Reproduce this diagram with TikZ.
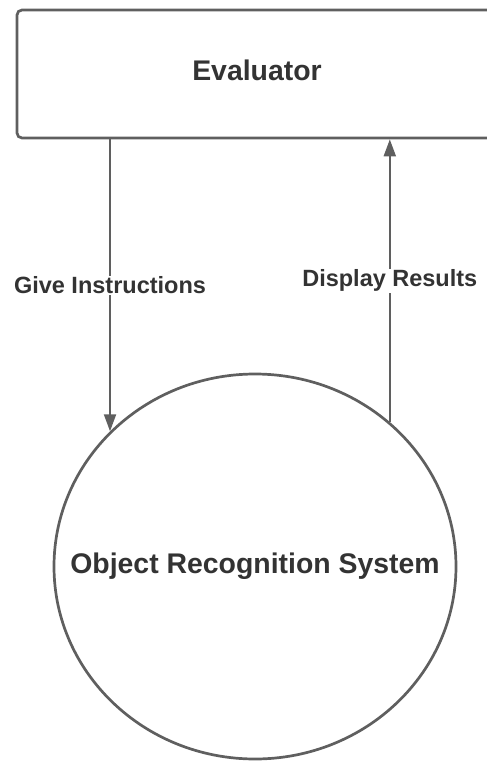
\documentclass[tikz,border=0pt]{standalone}
\usepackage{fontspec}
\setmainfont{Liberation Sans}
\usepackage{xcolor}
\usetikzlibrary{arrows.meta, shapes.geometric}
\definecolor{linegray}{HTML}{5F5F5F}
\definecolor{textgray}{HTML}{333333}
\tikzset{
	entity/.style={draw=linegray, line width=2.7pt, rounded corners=5pt, text=textgray, font=\fontsize{28.4}{34}\selectfont\bfseries},
	process/.style={ellipse, draw=linegray, line width=2.7pt, inner xsep=-50pt, inner ysep=0pt, text=textgray, font=\fontsize{28.4}{34}\selectfont\bfseries},
	flow/.style={draw=linegray, line width=2pt, -{Triangle[length=17pt,width=12pt]}},
	flowlabel/.style={fill=white, text=textgray, inner sep=1pt, font=\fontsize{23.5}{28}\selectfont\bfseries}
}

\begin{document}
\begin{tikzpicture}[x=1pt, y=-1pt]
	\useasboundingbox (0,0) rectangle (487,761);
	\clip (0,0) rectangle (487,761);
	\node[entity, minimum width=480pt, minimum height=128pt, text depth=8pt] (evaluator) at (257,74) {Evaluator};
	\node[process, minimum width=402pt, minimum height=385pt] (ors) at (255,566.5) {Object Recognition System};
	\draw[flow] (evaluator.south -| ors.137.4) -- node[flowlabel]{Give Instructions} (ors.137.4);
	\draw[flow] (ors.47.4) -- node[flowlabel]{Display Results} (ors.47.4 |- evaluator.south);
\end{tikzpicture}
\end{document}
